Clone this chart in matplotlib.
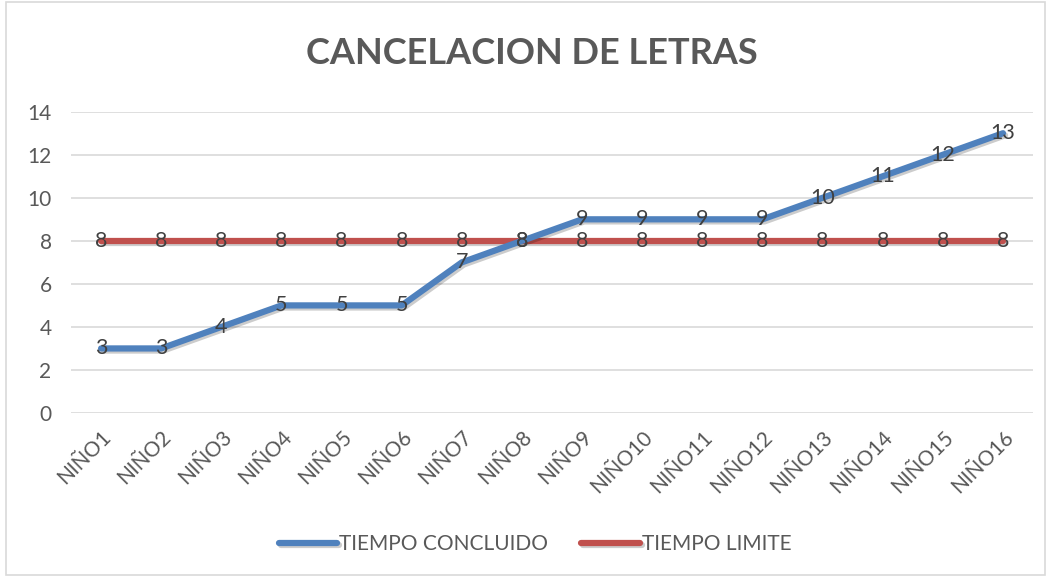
import matplotlib
matplotlib.use("Agg")
import matplotlib.pyplot as plt
import matplotlib.patheffects as pe
from matplotlib.patches import Rectangle

categories = ["NIÑO1", "NIÑO2", "NIÑO3", "NIÑO4", "NIÑO5", "NIÑO6", "NIÑO7", "NIÑO8",
              "NIÑO9", "NIÑO10", "NIÑO11", "NIÑO12", "NIÑO13", "NIÑO14", "NIÑO15", "NIÑO16"]
tiempo_concluido = [3, 3, 4, 5, 5, 5, 7, 8, 9, 9, 9, 9, 10, 11, 12, 13]
tiempo_limite = [8, 8, 8, 8, 8, 8, 8, 8, 8, 8, 8, 8, 8, 8, 8, 8]
yticks = [0, 2, 4, 6, 8, 10, 12, 14]

plt.rcParams['font.family'] = ['Lato', 'DejaVu Sans']
text_color = "#595959"
label_color = "#404040"
blue = "#4F81BD"
red = "#C0504D"

fig = plt.figure(figsize=(10.49, 5.77), dpi=100)
fig.patches.append(Rectangle((0.006, 0.003), 0.99, 0.994, transform=fig.transFigure,
                             fill=False, edgecolor="#D9D9D9", linewidth=1.2))
ax = fig.add_axes([0.0677, 0.2842, 0.9171, 0.5222])

x = list(range(len(categories)))
shadow = [pe.SimpleLineShadow(offset=(1.5, -1.5), shadow_color="#000000", alpha=0.2), pe.Normal()]
ax.plot(x, tiempo_concluido, color=blue, lw=4.5, solid_joinstyle="round",
        solid_capstyle="round", label="TIEMPO CONCLUIDO", path_effects=shadow, zorder=3)
ax.plot(x, tiempo_limite, color=red, lw=4.5, solid_joinstyle="round",
        solid_capstyle="round", label="TIEMPO LIMITE", path_effects=shadow, zorder=2)

for xi, v in zip(x, tiempo_limite):
    ax.text(xi, v, str(v), ha="center", va="center", fontsize=15.5, color=label_color, zorder=5)
for xi, v in zip(x, tiempo_concluido):
    ax.text(xi, v, str(v), ha="center", va="center", fontsize=15.5, color=label_color, zorder=5)

ax.set_xlim(-0.5, len(categories) - 0.5)
ax.set_ylim(0, 14)
ax.set_yticks(yticks)
ax.set_yticklabels([str(t) for t in yticks], fontsize=15, color=text_color)
ax.set_xticks(x)
ax.set_xticklabels(categories, rotation=45, ha="right", rotation_mode="anchor",
                   fontsize=15, color=text_color)
ax.tick_params(axis="both", length=0, pad=14)
ax.tick_params(axis="x", pad=10)
ax.grid(axis="y", color="#D9D9D9", linewidth=1.2)
ax.set_axisbelow(True)
for s in ax.spines.values():
    s.set_visible(False)

fig.text(0.507, 0.908, "CANCELACION DE LETRAS", ha="center", va="center",
         fontsize=26, fontweight="bold", color=text_color)

leg = fig.legend(loc="center", bbox_to_anchor=(0.51, 0.057), ncol=2, frameon=False,
                 fontsize=15, handlelength=2.8, handletextpad=0.1, columnspacing=1.6)
for t in leg.get_texts():
    t.set_color(text_color)

fig.savefig("out.png", dpi=100)
